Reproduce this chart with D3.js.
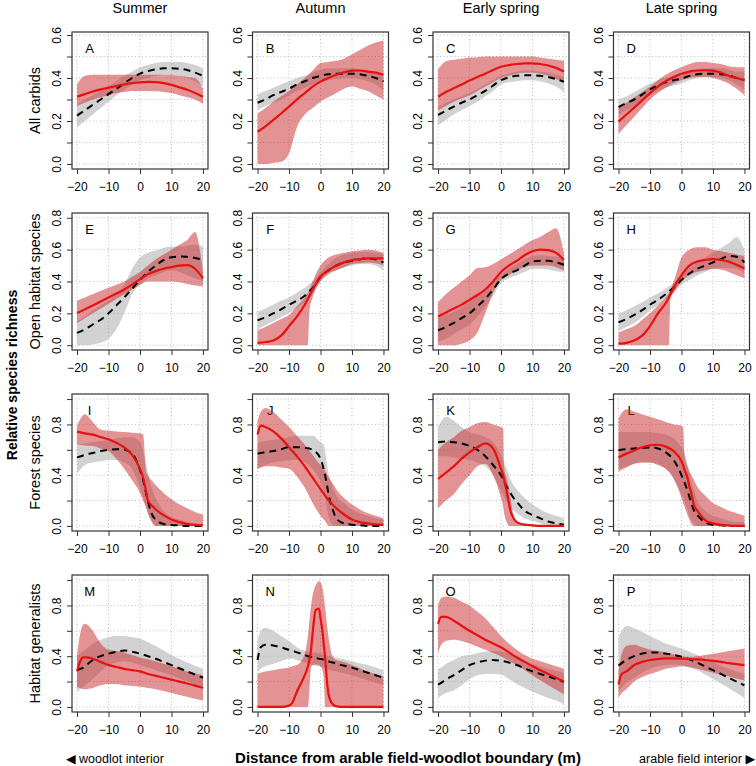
<!DOCTYPE html>
<html><head><meta charset="utf-8">
<script src="https://cdn.jsdelivr.net/npm/d3@7"></script>
<style>body{margin:0;background:#fff}svg{display:block}text{font-family:"Liberation Sans",Arial,"DejaVu Sans",sans-serif;fill:#000}</style>
</head><body><svg id="c" width="756" height="766"></svg>
<script>
const seasons = ["Summer","Autumn","Early spring","Late spring"];
const groups = ["All carbids","Open habitat species","Forest species","Habitat generalists"];
const letters = [["A","B","C","D"],["E","F","G","H"],["I","J","K","L"],["M","N","O","P"]];
const xTicks = [-20,-10,0,10,20];
const yTicks = [[0,.1,.2,.3,.4,.5,.6],[0,.2,.4,.6,.8],[0,.2,.4,.6,.8,1],[0,.2,.4,.6,.8,1]];
const yTickLabels = [["0.0","","0.2","","0.4","","0.6"],["0.0","0.2","0.4","0.6","0.8"],["0.0","","0.4","","0.8",""],["0.0","","0.4","","0.8",""]];
const G17 = [-20,-17.5,-15,-12.5,-10,-7.5,-5,-2.5,0,2.5,5,7.5,10,12.5,15,17.5,20];

// g = woodlot-based (grey, dashed), r = field-based (red); l/u = band limits
const A_x = G17;
const A_g  = [.225,.25,.275,.30,.325,.35,.375,.40,.42,.432,.44,.445,.445,.443,.437,.425,.41];
const A_gl = [.17,.20,.23,.26,.29,.32,.345,.37,.39,.40,.41,.415,.415,.41,.40,.385,.36];
const A_gu = [.28,.30,.32,.34,.36,.385,.41,.43,.45,.46,.47,.475,.475,.475,.47,.46,.445];
const A_r  = [.313,.325,.337,.347,.355,.363,.370,.376,.380,.382,.381,.376,.368,.357,.345,.33,.313];
const A_rl = [.27,.285,.30,.31,.32,.33,.335,.34,.34,.34,.338,.335,.33,.32,.31,.30,.28];
const A_ru = [.37,.41,.415,.415,.415,.415,.415,.415,.415,.415,.415,.415,.415,.41,.405,.40,.35];

const B_x = G17;
const B_g  = [.285,.30,.32,.335,.35,.37,.385,.40,.41,.417,.42,.42,.42,.418,.41,.40,.385];
const B_gl = [.25,.27,.285,.30,.32,.34,.355,.37,.38,.39,.395,.40,.40,.395,.385,.37,.34];
const B_gu = [.325,.34,.355,.37,.385,.40,.41,.425,.44,.445,.445,.445,.445,.44,.435,.43,.42];
const B_r  = [.15,.175,.205,.235,.267,.30,.33,.36,.383,.40,.415,.427,.434,.435,.43,.425,.415];
const B_rl = [0,0,.005,.01,.05,.17,.23,.26,.29,.31,.33,.35,.36,.35,.34,.32,.30];
const B_ru = [.235,.26,.29,.315,.34,.37,.40,.435,.47,.475,.48,.49,.51,.53,.55,.565,.575];

const C_x = G17;
const C_g  = [.228,.248,.267,.285,.30,.32,.34,.365,.39,.403,.41,.413,.413,.41,.405,.395,.383];
const C_gl = [.18,.205,.23,.25,.27,.29,.315,.34,.37,.38,.385,.39,.39,.385,.375,.36,.335];
const C_gu = [.265,.285,.30,.315,.33,.35,.37,.39,.41,.42,.43,.435,.435,.43,.425,.415,.405];
const C_r  = [.313,.335,.352,.37,.388,.405,.42,.437,.452,.46,.465,.468,.468,.465,.458,.447,.43];
const C_rl = [.25,.27,.29,.305,.32,.34,.36,.38,.40,.41,.42,.425,.425,.42,.41,.395,.375];
const C_ru = [.44,.478,.485,.49,.495,.497,.50,.50,.50,.50,.50,.50,.50,.495,.49,.485,.48];

const D_x = G17;
const D_g  = [.264,.283,.30,.323,.347,.365,.38,.39,.397,.41,.417,.42,.42,.418,.412,.40,.39];
const D_gl = [.23,.25,.27,.295,.32,.34,.355,.365,.375,.39,.40,.405,.405,.40,.39,.37,.345];
const D_gu = [.30,.315,.335,.355,.375,.39,.40,.41,.42,.43,.44,.445,.445,.445,.44,.43,.43];
const D_r  = [.197,.23,.262,.296,.33,.36,.385,.405,.42,.43,.435,.436,.434,.425,.41,.40,.39];
const D_rl = [.14,.18,.22,.26,.30,.33,.355,.375,.39,.40,.405,.405,.40,.39,.375,.35,.32];
const D_ru = [.26,.285,.31,.335,.36,.39,.415,.435,.45,.465,.475,.475,.47,.465,.455,.45,.45];

const E_x = G17;
const E_g  = [.077,.10,.13,.16,.20,.25,.30,.355,.41,.46,.50,.535,.552,.557,.555,.548,.535];
const E_gl = [0,0,.005,.015,.04,.10,.20,.32,.38,.42,.44,.46,.47,.46,.44,.42,.40];
const E_gu = [.15,.18,.22,.25,.28,.32,.38,.48,.55,.58,.595,.61,.62,.62,.625,.63,.62];
const E_r  = [.202,.225,.25,.275,.30,.325,.35,.38,.415,.445,.465,.48,.49,.50,.503,.48,.42];
const E_rl = [.14,.17,.20,.23,.26,.29,.32,.35,.38,.40,.40,.40,.40,.395,.385,.375,.37];
const E_ru = [.28,.30,.32,.34,.36,.38,.40,.43,.46,.50,.54,.57,.60,.63,.66,.71,.46];

const F_x = [-20,-17.5,-15,-12.5,-10,-7.5,-5,-4,-3.5,-2.5,0,2.5,5,7.5,10,12.5,15,17.5,20];
const F_g  = [.156,.175,.20,.225,.254,.28,.31,.33,.34,.36,.43,.47,.50,.52,.53,.54,.545,.54,.52];
const F_gl = [.10,.125,.15,.175,.20,.235,.27,.285,.295,.32,.40,.44,.47,.49,.50,.51,.51,.50,.47];
const F_gu = [.21,.23,.255,.28,.30,.33,.36,.375,.385,.40,.46,.51,.55,.57,.58,.585,.585,.58,.575];
const F_r  = [.015,.02,.03,.06,.12,.18,.254,.29,.31,.35,.43,.47,.50,.52,.535,.54,.545,.545,.545];
const F_rl = [0,0,0,0,0,0,0,0,.22,.30,.40,.45,.47,.49,.51,.515,.52,.515,.50];
const F_ru = [.095,.115,.14,.165,.19,.245,.30,.33,.35,.40,.50,.55,.57,.58,.59,.595,.60,.595,.58];

const G_x = G17;
const G_g  = [.094,.115,.14,.17,.20,.245,.29,.35,.415,.45,.47,.50,.525,.53,.53,.52,.505];
const G_gl = [.02,.04,.07,.10,.13,.18,.24,.31,.39,.42,.44,.46,.48,.48,.475,.465,.46];
const G_gu = [.17,.19,.21,.24,.27,.31,.35,.40,.44,.48,.51,.54,.56,.565,.56,.555,.55];
const G_r  = [.18,.205,.23,.255,.285,.315,.35,.40,.46,.50,.53,.565,.59,.60,.597,.58,.535];
const G_rl = [0,0,0,.01,.03,.08,.20,.33,.41,.44,.47,.49,.50,.50,.50,.49,.47];
const G_ru = [.27,.32,.36,.40,.44,.485,.49,.51,.54,.57,.60,.63,.66,.68,.71,.735,.58];

const H_x = [-20,-17.5,-15,-12.5,-10,-7.5,-5,-4,-3.5,-2.5,0,2.5,5,7.5,10,12.5,15,17.5,20];
const H_g  = [.144,.165,.19,.22,.254,.285,.32,.335,.345,.36,.41,.45,.48,.50,.52,.54,.56,.555,.52];
const H_gl = [.09,.115,.14,.175,.22,.25,.29,.305,.315,.33,.38,.41,.44,.46,.48,.485,.485,.48,.45];
const H_gu = [.20,.22,.245,.27,.30,.325,.355,.37,.375,.39,.44,.48,.52,.55,.58,.61,.64,.68,.60];
const H_r  = [.01,.015,.03,.06,.12,.20,.265,.30,.32,.36,.44,.50,.525,.535,.54,.535,.525,.505,.483];
const H_rl = [0,0,0,0,0,0,0,0,.30,.33,.40,.44,.46,.47,.48,.475,.46,.44,.42];
const H_ru = [.08,.10,.12,.16,.20,.25,.30,.33,.35,.40,.55,.60,.615,.615,.60,.59,.58,.57,.56];

const I_x = [-20,-17.5,-15,-12.5,-10,-7.5,-5,-2.5,0,1,2,2.5,3,4,5,7.5,10,12.5,15,17.5,20];
const I_g  = [.54,.56,.575,.59,.60,.605,.60,.57,.44,.36,.25,.20,.15,.08,.05,.015,.008,.004,0,0,0];
const I_gl = [.41,.48,.50,.51,.52,.52,.50,.45,.30,.22,.14,.10,.07,.03,0,0,0,0,0,0,0];
const I_gu = [.64,.65,.66,.67,.68,.69,.70,.70,.66,.58,.48,.42,.36,.28,.22,.12,.07,.05,.03,.02,.015];
const I_r  = [.743,.73,.72,.70,.683,.655,.62,.56,.45,.38,.26,.20,.18,.155,.13,.085,.05,.03,.015,.008,.005];
const I_rl = [.64,.635,.63,.61,.59,.53,.45,.36,.26,.20,.14,.10,.07,.02,0,0,0,0,0,0,0];
const I_ru = [.79,.88,.82,.76,.75,.745,.74,.735,.73,.72,.42,.40,.38,.35,.32,.26,.21,.17,.14,.11,.09];

const J_x = [-20,-19,-17.5,-15,-12.5,-10,-7.5,-5,-2.5,0,1,2,2.5,3,4,5,7.5,10,12.5,15,17.5,20];
const J_g  = [.57,.575,.58,.59,.605,.62,.62,.615,.60,.53,.45,.33,.26,.20,.12,.06,.02,.01,.005,0,0,0];
const J_gl = [.45,.46,.48,.50,.51,.52,.52,.50,.45,.35,.28,.15,.08,.04,.01,0,0,0,0,0,0,0];
const J_gu = [.65,.66,.67,.68,.69,.70,.71,.71,.71,.66,.64,.50,.42,.37,.30,.24,.18,.13,.10,.08,.06,.05];
const J_r  = [.72,.79,.78,.745,.69,.62,.55,.47,.38,.29,.255,.22,.205,.19,.165,.14,.09,.05,.03,.02,.012,.008];
const J_rl = [.45,.46,.47,.47,.46,.45,.39,.30,.18,.08,.05,.02,0,0,0,0,0,0,0,0,0,0];
const J_ru = [.82,.90,.93,.90,.84,.78,.71,.64,.56,.48,.45,.41,.39,.37,.33,.29,.22,.17,.13,.10,.08,.06];

const K_x = [-20,-17.5,-15,-12.5,-10,-7.5,-5,-2.5,0,0.7,1,2,2.5,3,4,5,7.5,10,12.5,15,17.5,20];
const K_g  = [.66,.665,.66,.65,.63,.60,.55,.48,.40,.37,.35,.30,.28,.26,.22,.19,.12,.085,.06,.035,.02,.01];
const K_gl = [.55,.55,.54,.53,.52,.50,.47,.40,.28,.25,.23,.19,.17,.15,.12,.10,.06,.04,.02,.01,.005,0];
const K_gu = [.78,.86,.83,.78,.74,.72,.70,.66,.56,.52,.50,.44,.40,.37,.32,.29,.22,.17,.13,.10,.08,.06];
const K_r  = [.37,.42,.47,.53,.58,.62,.65,.61,.45,.40,.36,.25,.18,.12,.06,.03,.01,.005,0,0,0,0];
const K_rl = [.14,.20,.25,.33,.40,.47,.49,.40,.22,.15,.10,.02,0,0,0,0,0,0,0,0,0,0];
const K_ru = [.60,.66,.70,.75,.78,.81,.82,.80,.78,.77,.46,.36,.30,.22,.08,.03,.01,.01,.005,.005,.005,.005];

const L_x = [-20,-17.5,-15,-12.5,-10,-7.5,-5,-2.5,0,0.5,1,2,2.5,3,4,5,7.5,10,12.5,15,17.5,20];
const L_g  = [.597,.605,.61,.615,.618,.61,.58,.52,.40,.37,.34,.27,.23,.19,.12,.085,.03,.01,.005,0,0,0];
const L_gl = [.45,.47,.49,.50,.50,.49,.45,.38,.25,.22,.19,.12,.08,.05,.02,0,0,0,0,0,0,0];
const L_gu = [.74,.74,.74,.74,.74,.73,.72,.69,.62,.60,.57,.48,.42,.37,.28,.20,.12,.08,.06,.04,.03,.03];
const L_r  = [.54,.57,.595,.62,.636,.64,.625,.59,.51,.48,.44,.37,.31,.27,.16,.12,.045,.02,.008,.003,0,0];
const L_rl = [.43,.46,.49,.50,.50,.48,.45,.37,.22,.18,.15,.08,.05,.02,0,0,0,0,0,0,0,0];
const L_ru = [.85,.92,.90,.88,.86,.84,.82,.80,.79,.78,.55,.46,.43,.41,.36,.31,.24,.18,.15,.12,.10,.08];

const M_x = [-20,-19,-18,-17.5,-15,-12.5,-10,-7.5,-5,-2.5,0,2.5,5,7.5,10,12.5,15,17.5,20];
const M_g  = [.29,.30,.31,.32,.37,.40,.42,.435,.445,.435,.42,.40,.38,.355,.33,.305,.28,.255,.23];
const M_gl = [.12,.14,.16,.17,.22,.28,.33,.35,.36,.35,.33,.31,.29,.27,.25,.225,.20,.175,.15];
const M_gu = [.40,.42,.44,.45,.50,.53,.55,.56,.56,.55,.54,.51,.48,.445,.41,.38,.35,.325,.30];
const M_r  = [.28,.36,.39,.39,.38,.355,.33,.315,.30,.29,.28,.26,.245,.23,.215,.20,.185,.168,.15];
const M_rl = [.16,.15,.14,.14,.15,.17,.18,.18,.17,.165,.16,.15,.14,.125,.11,.095,.08,.065,.05];
const M_ru = [.40,.58,.65,.655,.60,.50,.45,.44,.43,.41,.39,.375,.36,.34,.32,.30,.28,.265,.25];

const N_x = [-20,-19,-17.5,-15,-12.5,-10,-9,-7.5,-5,-4,-3,-2.5,-1.5,-0.5,0,0.7,1,1.5,2,2.5,3,4,5,7.5,10,12.5,15,17.5,20];
const N_g  = [.37,.47,.49,.485,.47,.45,.445,.43,.41,.40,.395,.39,.385,.38,.378,.375,.372,.37,.365,.36,.355,.35,.34,.325,.31,.29,.27,.25,.23];
const N_gl = [.27,.30,.32,.34,.36,.38,.38,.37,.35,.34,.335,.33,.325,.32,.32,.315,.31,.305,.30,.295,.29,.285,.28,.265,.25,.23,.21,.19,.17];
const N_gu = [.52,.60,.625,.60,.56,.52,.50,.47,.44,.435,.43,.43,.43,.425,.42,.415,.41,.41,.405,.40,.40,.395,.39,.375,.36,.345,.33,.31,.29];
const N_r  = [0,0,0,0,0,.01,.03,.12,.25,.32,.45,.58,.765,.775,.70,.58,.50,.38,.22,.11,.06,.02,.005,0,0,0,0,0,0];
const N_rl = [0,0,0,0,0,0,0,0,0,0,.31,.33,.335,.33,.32,.28,.24,0,0,0,0,0,0,0,0,0,0,0,0];
const N_ru = [.26,.27,.28,.29,.30,.31,.32,.33,.42,.56,.80,.88,.96,.99,.98,.93,.88,.78,.66,.56,.48,.39,.37,.355,.33,.305,.28,.26,.24];

const O_x = [-20,-19,-17.5,-15,-12.5,-10,-7.5,-5,-2.5,0,2.5,5,7.5,10,12.5,15,17.5,20];
const O_g  = [.176,.19,.215,.25,.29,.33,.35,.365,.37,.363,.35,.33,.305,.28,.26,.24,.22,.197];
const O_gl = [.07,.09,.11,.13,.17,.22,.25,.26,.26,.255,.22,.18,.15,.12,.095,.07,.05,.02];
const O_gu = [.30,.31,.34,.37,.40,.41,.425,.435,.44,.435,.42,.40,.37,.34,.32,.30,.285,.27];
const O_r  = [.655,.71,.71,.68,.64,.60,.565,.53,.50,.47,.43,.39,.355,.32,.29,.26,.23,.20];
const O_rl = [.42,.49,.52,.53,.52,.50,.475,.45,.425,.40,.365,.33,.29,.25,.21,.17,.135,.10];
const O_ru = [.80,.86,.87,.86,.83,.80,.75,.70,.63,.56,.50,.45,.41,.38,.36,.34,.32,.30];

const P_x = [-20,-19,-17.5,-15,-12.5,-10,-7.5,-5,-2.5,0,2.5,5,7.5,10,12.5,15,17.5,20];
const P_g  = [.326,.345,.37,.40,.42,.43,.43,.42,.41,.396,.375,.35,.32,.29,.26,.23,.20,.17];
const P_gl = [.12,.15,.19,.23,.27,.30,.32,.33,.335,.33,.31,.29,.255,.22,.185,.15,.11,.07];
const P_gu = [.55,.60,.64,.62,.59,.56,.53,.50,.48,.46,.435,.41,.38,.35,.325,.30,.28,.26];
const P_r  = [.176,.26,.28,.33,.355,.37,.378,.383,.382,.38,.378,.375,.37,.363,.355,.345,.337,.33];
const P_rl = [.07,.11,.14,.20,.235,.26,.28,.30,.31,.32,.315,.30,.285,.27,.255,.24,.225,.21];
const P_ru = [.28,.42,.48,.49,.47,.45,.44,.43,.415,.40,.395,.40,.41,.42,.43,.44,.45,.46];

const panelData = {
  A:[A_x,A_g,A_gl,A_gu,A_r,A_rl,A_ru], B:[B_x,B_g,B_gl,B_gu,B_r,B_rl,B_ru],
  C:[C_x,C_g,C_gl,C_gu,C_r,C_rl,C_ru], D:[D_x,D_g,D_gl,D_gu,D_r,D_rl,D_ru],
  E:[E_x,E_g,E_gl,E_gu,E_r,E_rl,E_ru], F:[F_x,F_g,F_gl,F_gu,F_r,F_rl,F_ru],
  G:[G_x,G_g,G_gl,G_gu,G_r,G_rl,G_ru], H:[H_x,H_g,H_gl,H_gu,H_r,H_rl,H_ru],
  I:[I_x,I_g,I_gl,I_gu,I_r,I_rl,I_ru], J:[J_x,J_g,J_gl,J_gu,J_r,J_rl,J_ru],
  K:[K_x,K_g,K_gl,K_gu,K_r,K_rl,K_ru], L:[L_x,L_g,L_gl,L_gu,L_r,L_rl,L_ru],
  M:[M_x,M_g,M_gl,M_gu,M_r,M_rl,M_ru], N:[N_x,N_g,N_gl,N_gu,N_r,N_rl,N_ru],
  O:[O_x,O_g,O_gl,O_gu,O_r,O_rl,O_ru], P:[P_x,P_g,P_gl,P_gu,P_r,P_rl,P_ru]
};

// layout
const colLeft = [72, 252.5, 433, 613.5], W = 136;
const rowTop = [32, 213, 394, 575], H = 137;
const yDomains = [[-0.0233,0.614],[-0.03,0.83],[-0.04,1.04],[-0.04,1.04]];
const xDomain = [-21.6, 21.6];

const svg = d3.select("#c");
svg.append("rect").attr("width",756).attr("height",766).attr("fill","#fff");

const curve = d3.curveMonotoneX;

for (let r = 0; r < 4; r++) {
  for (let c = 0; c < 4; c++) {
    const L = colLeft[c], T = rowTop[r];
    const xs = d3.scaleLinear().domain(xDomain).range([L, L + W]);
    const ys = d3.scaleLinear().domain(yDomains[r]).range([T + H, T]);
    const g = svg.append("g");
    // grid
    xTicks.forEach(t => g.append("line").attr("x1", xs(t)).attr("x2", xs(t)).attr("y1", T).attr("y2", T + H)
      .attr("stroke", "#bdbdbd").attr("stroke-width", 1).attr("stroke-dasharray", "1,2.5"));
    yTicks[r].forEach(t => g.append("line").attr("x1", L).attr("x2", L + W).attr("y1", ys(t)).attr("y2", ys(t))
      .attr("stroke", "#bdbdbd").attr("stroke-width", 1).attr("stroke-dasharray", "1,2.5"));
    // axes
    const xa = d3.axisBottom(xs).tickValues(xTicks).tickSize(5).tickFormat(d => d < 0 ? "\u2212" + Math.abs(d) : String(d));
    const xg = g.append("g").attr("transform", `translate(0,${T + H})`).call(xa);
    xg.select(".domain").remove();
    xg.selectAll("line").attr("stroke", "#333");
    xg.selectAll("text").attr("font-size", 12).attr("dy", null).attr("y", 22).attr("font-family", '"Liberation Sans",Arial,sans-serif').attr("fill","#111");
    const labs = yTickLabels[r];
    const ya = d3.axisLeft(ys).tickValues(yTicks[r]).tickSize(5).tickFormat((d, i) => labs[i]);
    const yg = g.append("g").attr("transform", `translate(${L},0)`).call(ya);
    yg.select(".domain").remove();
    yg.selectAll("line").attr("stroke", "#333");
    yg.selectAll("text").attr("font-size", 12).attr("font-family", '"Liberation Sans",Arial,sans-serif').attr("fill","#111")
      .attr("text-anchor", "middle").attr("dy", null).attr("x", null)
      .attr("transform", function() { return `translate(-11,0) rotate(-90)`; });
    // panel letter
    const id = letters[r][c];
    g.append("text").attr("x", xs(-16)).attr("y", T + 21).attr("text-anchor", "middle").attr("font-size", 13).text(id);
    // data
    const [X, gm, gl, gu, rm, rl, ru] = panelData[id];
    const rows = X.map((x, i) => ({x, gm: gm[i], gl: gl[i], gu: gu[i], rm: rm[i], rl: rl[i], ru: ru[i]}));
    const area = (lo, hi) => d3.area().x(d => xs(d.x)).y0(d => ys(d[lo])).y1(d => ys(d[hi])).curve(curve);
    const line = k => d3.line().x(d => xs(d.x)).y(d => ys(d[k])).curve(curve);
    g.append("path").datum(rows).attr("d", area("gl", "gu")).attr("fill", "rgb(165,165,165)").attr("fill-opacity", 0.5);
    g.append("path").datum(rows).attr("d", area("rl", "ru")).attr("fill", "rgb(200,40,40)").attr("fill-opacity", 0.5);
    g.append("path").datum(rows).attr("d", line("gm")).attr("fill", "none").attr("stroke", "#000")
      .attr("stroke-width", 2).attr("stroke-dasharray", "7,5");
    g.append("path").datum(rows).attr("d", line("rm")).attr("fill", "none").attr("stroke", "#e81010").attr("stroke-width", 2.2);
    // box
    g.append("rect").attr("x", L).attr("y", T).attr("width", W).attr("height", H)
      .attr("fill", "none").attr("stroke", "#333").attr("stroke-width", 1.2);
    // column titles
    if (r === 0) svg.append("text").attr("x", L + W / 2).attr("y", 13).attr("text-anchor", "middle").attr("font-size", 14.5).text(seasons[c]);
    if (c === 0) svg.append("text").attr("transform", `translate(40,${T + H / 2}) rotate(-90)`).attr("text-anchor", "middle").attr("font-size", 14.5).text(groups[r]);
  }
}
svg.append("text").attr("transform", "translate(17,375) rotate(-90)").attr("text-anchor", "middle")
  .attr("font-size", 14).attr("font-weight", "bold").text("Relative species richness");
svg.append("text").attr("x", 408).attr("y", 763).attr("text-anchor", "middle")
  .attr("font-size", 15).attr("font-weight", "bold").text("Distance from arable field-woodlot boundary (m)");
svg.append("text").attr("x", 66).attr("y", 763).attr("font-size", 12.5).text("\u25C0 woodlot interior");
svg.append("text").attr("x", 755).attr("y", 763).attr("text-anchor", "end").attr("font-size", 12.5).text("arable field interior \u25B6");
</script></body></html>
